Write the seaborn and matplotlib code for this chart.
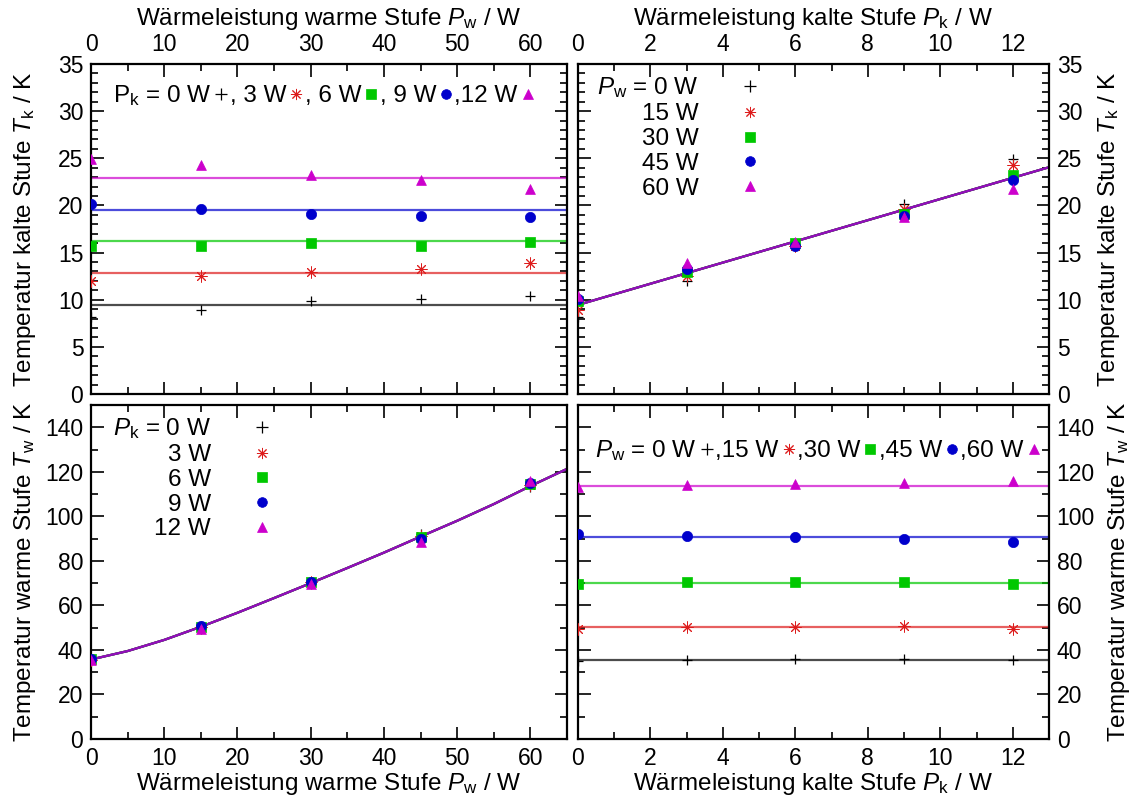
import matplotlib
matplotlib.use("Agg")
import matplotlib.pyplot as plt
import seaborn as sns
from matplotlib.lines import Line2D
from matplotlib.ticker import MultipleLocator

sns.set_theme(style="ticks")
plt.rcParams["font.family"] = ["Liberation Sans", "DejaVu Sans"]
plt.rcParams["mathtext.fontset"] = "custom"
plt.rcParams["mathtext.rm"] = "Liberation Sans"
plt.rcParams["mathtext.it"] = "Liberation Sans:italic"
plt.rcParams["mathtext.bf"] = "Liberation Sans:bold"
FS = 17.5
TFS = 16.5
plt.rcParams.update({"font.size": FS, "axes.labelsize": FS, "xtick.labelsize": TFS,
                     "ytick.labelsize": TFS, "legend.fontsize": FS,
                     "axes.edgecolor": "black", "xtick.color": "black",
                     "ytick.color": "black", "text.color": "black",
                     "axes.labelcolor": "black"})

# ---------------- data ----------------
pw_values = [0, 15, 30, 45, 60]      # W, warm stage heat load
pk_values = [0, 3, 6, 9, 12]         # W, cold stage heat load

# T_k (K) for each P_k, at P_w = 0, 15, 30, 45, 60
tk_pk0 = [8.2, 8.9, 9.9, 10.05, 10.4]
tk_pk3 = [11.95, 12.5, 12.9, 13.3, 13.9]
tk_pk6 = [15.7, 15.7, 16.05, 15.65, 16.15]
tk_pk9 = [20.15, 19.6, 19.1, 18.85, 18.8]
tk_pk12 = [24.9, 24.3, 23.25, 22.7, 21.7]

# T_w (K) for each P_w, at P_k = 0, 3, 6, 9, 12
tw_pw0 = [35.2, 35.6, 35.8, 35.8, 35.6]
tw_pw15 = [49.6, 50.5, 50.5, 50.6, 49.6]
tw_pw30 = [69.6, 70.3, 70.3, 70.3, 69.7]
tw_pw45 = [92.2, 91.3, 90.7, 89.6, 88.4]
tw_pw60 = [113.2, 114.1, 114.7, 115.1, 115.7]

# fitted model lines
tk_fit_levels = [9.45, 12.82, 16.19, 19.56, 22.93]   # per P_k (top left)
fit_line_pk = [0, 13]
fit_line_tk = [9.45, 24.05]                          # top right
curve_pw = [0, 5, 10, 15, 20, 25, 30, 35, 40, 45, 50, 55, 60, 65]
curve_tw = [35.7, 39.5, 44.5, 50.4, 56.7, 63.3, 70.0, 76.8, 83.7, 90.9,
            98.0, 105.5, 113.6, 121.3]              # bottom left
tw_fit_levels = [35.7, 50.4, 70.0, 90.9, 113.6]      # per P_w (bottom right)

tk_series = [tk_pk0, tk_pk3, tk_pk6, tk_pk9, tk_pk12]
tw_series = [tw_pw0, tw_pw15, tw_pw30, tw_pw45, tw_pw60]

colors = ["#000000", "#dd1c1c", "#00c800", "#0000cc", "#cc00cc"]
markers = ["+", (8, 2, 0), "s", "o", "^"]
sizes = [60, 65, 45, 55, 50]
lws = [0.9, 0.7, 0.5, 0.5, 0.5]
line_alpha = 0.7

# ---------------- figure ----------------
W, H = 1138, 801
fig = plt.figure(figsize=(W / 100, H / 100), dpi=100)


def rect(x0, y0, x1, y1):
    return [x0 / W, 1 - y1 / H, (x1 - x0) / W, (y1 - y0) / H]


ax_tl = fig.add_axes(rect(91, 64, 567, 394))
ax_tr = fig.add_axes(rect(578, 64, 1049, 394))
ax_bl = fig.add_axes(rect(91, 405, 567, 739))
ax_br = fig.add_axes(rect(578, 405, 1049, 739))


def points(ax, x, y, i):
    sns.scatterplot(x=x, y=y, marker=markers[i], color=colors[i], s=sizes[i],
                    edgecolor=colors[i], linewidth=lws[i], ax=ax, legend=False,
                    zorder=3)


def handles():
    return [Line2D([], [], ls="", marker=markers[i], color=colors[i],
                   markeredgecolor=colors[i], ms=8 if i < 2 else 7,
                   mew=lws[i]) for i in range(5)]


# top left: T_k vs P_w, series by P_k
for i in range(5):
    ax_tl.axhline(tk_fit_levels[i], color=colors[i], lw=1.6, alpha=line_alpha, zorder=2)
    points(ax_tl, pw_values, tk_series[i], i)

# top right: T_k vs P_k, series by P_w
for j in range(5):
    sns.lineplot(x=fit_line_pk, y=fit_line_tk, color=colors[j], lw=1.6,
                 alpha=line_alpha, ax=ax_tr, zorder=2)
for j in range(5):
    points(ax_tr, pk_values, [tk_series[i][j] for i in range(5)], j)

# bottom left: T_w vs P_w, series by P_k
for i in range(5):
    sns.lineplot(x=curve_pw, y=curve_tw, color=colors[i], lw=1.6,
                 alpha=line_alpha, ax=ax_bl, zorder=2)
for i in range(5):
    points(ax_bl, pw_values, [tw_series[j][i] for j in range(5)], i)

# bottom right: T_w vs P_k, series by P_w
for j in range(5):
    ax_br.axhline(tw_fit_levels[j], color=colors[j], lw=1.6, alpha=line_alpha, zorder=2)
    points(ax_br, pk_values, tw_series[j], j)

# ---------------- axes styling ----------------
for ax in (ax_tl, ax_tr, ax_bl, ax_br):
    for s in ax.spines.values():
        s.set_linewidth(1.6)
    ax.tick_params(which="both", direction="in", top=True, bottom=True,
                   left=True, right=True, width=1.2)
    ax.tick_params(which="major", length=9, pad=5.5)
    ax.tick_params(which="minor", length=5)

for ax in (ax_tl, ax_bl):
    ax.set_xlim(0, 65)
    ax.xaxis.set_major_locator(MultipleLocator(10))
    ax.xaxis.set_minor_locator(MultipleLocator(5))
for ax in (ax_tr, ax_br):
    ax.set_xlim(0, 13)
    ax.xaxis.set_major_locator(MultipleLocator(2))
    ax.xaxis.set_minor_locator(MultipleLocator(1))
for ax in (ax_tl, ax_tr):
    ax.set_ylim(0, 35)
    ax.yaxis.set_major_locator(MultipleLocator(5))
    ax.yaxis.set_minor_locator(MultipleLocator(1))
    ax.tick_params(labeltop=True, labelbottom=False)
    ax.xaxis.set_label_position("top")
for ax in (ax_bl, ax_br):
    ax.set_ylim(0, 150)
    ax.yaxis.set_major_locator(MultipleLocator(20))
    ax.yaxis.set_minor_locator(MultipleLocator(10))
for ax in (ax_tr, ax_br):
    ax.tick_params(labelright=True, labelleft=False)
    ax.yaxis.set_label_position("right")

xl_w = r"Wärmeleistung warme Stufe $P_\mathrm{w}$ / W"
xl_k = r"Wärmeleistung kalte Stufe $P_\mathrm{k}$ / W"
yl_k = r"Temperatur kalte Stufe $T_\mathrm{k}$ / K"
yl_w = r"Temperatur warme Stufe $T_\mathrm{w}$ / K"
ax_tl.set_xlabel(xl_w, labelpad=6)
ax_bl.set_xlabel(xl_w, labelpad=1)
ax_tr.set_xlabel(xl_k, labelpad=6)
ax_br.set_xlabel(xl_k, labelpad=1)
ax_tl.set_ylabel(yl_k)
ax_bl.set_ylabel(yl_w)
ax_tl.yaxis.set_label_coords(-0.112, 0.5)
ax_bl.yaxis.set_label_coords(-0.112, 0.5)
ax_tr.set_ylabel(yl_k, labelpad=10, rotation=90)
ax_br.set_ylabel(yl_w, labelpad=8, rotation=90)

# ---------------- legends ----------------
h_kw = dict(ncol=5, markerfirst=False, frameon=False, handlelength=0.6,
            handletextpad=0.12, columnspacing=0.04, borderaxespad=0, borderpad=0)
ax_tl.legend(handles(), [r"P$_\mathrm{k}$ = 0 W", ", 3 W", ", 6 W", ", 9 W", ",12 W"],
             loc="upper left", bbox_to_anchor=(0.046, 0.941), **h_kw)
ax_br.legend(handles(), [r"$P_\mathrm{w}$ = 0 W", ",15 W", ",30 W", ",45 W", ",60 W"],
             loc="upper left", bbox_to_anchor=(0.036, 0.90), **h_kw)

v_kw = dict(markerfirst=False, frameon=False, handlelength=2.0,
            handletextpad=1.1, labelspacing=0.115, borderaxespad=0, borderpad=0)
ax_tr.legend(handles(), [r"$P_\mathrm{w}$ = 0 W", "15 W", "30 W", "45 W", "60 W"],
             loc="upper left", bbox_to_anchor=(0.040, 0.965), **v_kw)
ax_bl.legend(handles(), [r"$P_\mathrm{k}$ = 0 W", "3 W", "6 W", "9 W", "12 W"],
             loc="upper left", bbox_to_anchor=(0.046, 0.966), **v_kw)

fig.savefig("out.png", dpi=100)
